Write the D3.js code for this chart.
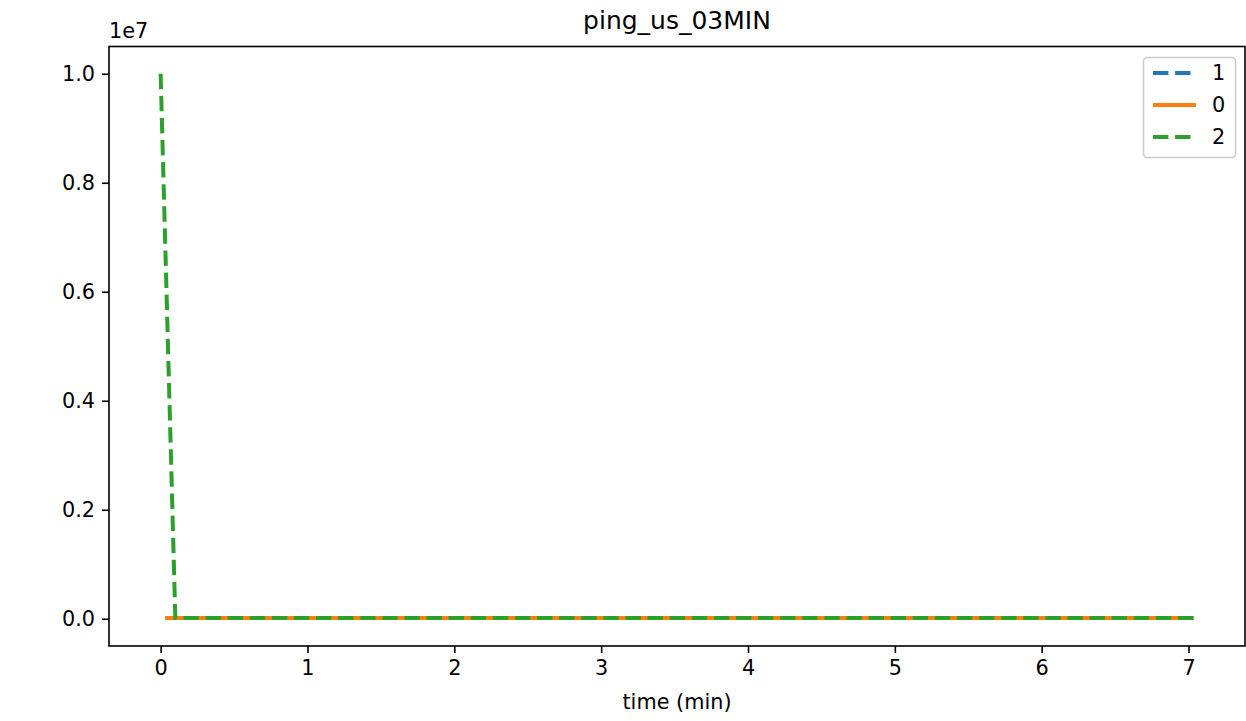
<!DOCTYPE html>
<html>
<head>
<meta charset="utf-8">
<script src="https://cdn.jsdelivr.net/npm/d3@7"></script>
<style>
html,body{margin:0;padding:0;background:#fff;}
svg{display:block;font-family:"DejaVu Sans",sans-serif;}
</style>
</head>
<body>
<svg id="chart" width="1246" height="721"></svg>
<script>
const title = "ping_us_03MIN";
const xLabel = "time (min)";
const seriesNames = ["1", "0", "2"];
const seriesColors = ["#1f77b4", "#ff7f0e", "#2ca02c"];
const seriesDashed = [true, false, true];
const time_1 = [0.033, 1, 2, 3, 4, 5, 6, 7.033];
const value_1 = [15000, 15000, 15000, 15000, 15000, 15000, 15000, 15000];
const time_0 = [0.033, 1, 2, 3, 4, 5, 6, 7.033];
const value_0 = [15000, 15000, 15000, 15000, 15000, 15000, 15000, 15000];
const time_2 = [0, 0.1, 1, 2, 3, 4, 5, 6, 7.033];
const value_2 = [10000000, 15000, 15000, 15000, 15000, 15000, 15000, 15000, 15000];
const xTicks = [0, 1, 2, 3, 4, 5, 6, 7];
const yTicks = [0, 0.2e7, 0.4e7, 0.6e7, 0.8e7, 1.0e7];

const series = [
  {name: seriesNames[0], color: seriesColors[0], dashed: seriesDashed[0], pts: time_1.map((t, i) => [t, value_1[i]])},
  {name: seriesNames[1], color: seriesColors[1], dashed: seriesDashed[1], pts: time_0.map((t, i) => [t, value_0[i]])},
  {name: seriesNames[2], color: seriesColors[2], dashed: seriesDashed[2], pts: time_2.map((t, i) => [t, value_2[i]])}
];

const svg = d3.select("#chart");
const L = 109, R = 1245, T = 46.5, B = 646;

const allX = series.flatMap(s => s.pts.map(p => p[0]));
const allY = series.flatMap(s => s.pts.map(p => p[1]));
const xmin = d3.min(allX), xmax = d3.max(allX);
const ymin = 0, ymax = d3.max(allY);
const xm = (xmax - xmin) * 0.05, ym = (ymax - ymin) * 0.05;

const x = d3.scaleLinear().domain([xmin - xm, xmax + xm]).range([L, R]);
const y = d3.scaleLinear().domain([ymin - ym, ymax + ym]).range([B, T]);

const dash = "15.4,6.7";
const lw = 4;
const fs = 20.8;

const line = d3.line().x(d => x(d[0])).y(d => y(d[1]));
const plot = svg.append("g");
plot.append("clipPath").attr("id", "clip").append("rect")
  .attr("x", L).attr("y", T).attr("width", R - L).attr("height", B - T);
const lines = plot.append("g").attr("clip-path", "url(#clip)");
series.forEach(s => {
  lines.append("path").datum(s.pts)
    .attr("d", line)
    .attr("fill", "none")
    .attr("stroke", s.color)
    .attr("stroke-width", lw)
    .attr("stroke-dasharray", s.dashed ? dash : null);
});

// axes
const xAxis = d3.axisBottom(x).tickValues(xTicks).tickFormat(d3.format("d")).tickSizeOuter(0).tickSize(7).tickPadding(7);
const yAxis = d3.axisLeft(y).tickValues(yTicks).tickFormat(d => (d / 1e7).toFixed(1)).tickSizeOuter(0).tickSize(7).tickPadding(7);

const gx = svg.append("g").attr("transform", `translate(0,${B})`).call(xAxis);
const gy = svg.append("g").attr("transform", `translate(${L},0)`).call(yAxis);
[gx, gy].forEach(g => {
  g.select(".domain").remove();
  g.selectAll(".tick line").attr("stroke", "#000").attr("stroke-width", 1.6);
  g.selectAll(".tick text").attr("fill", "#000").attr("font-size", fs).attr("font-family", "DejaVu Sans");
});

// frame
svg.append("rect").attr("x", L).attr("y", T).attr("width", R - L).attr("height", B - T)
  .attr("fill", "none").attr("stroke", "#000").attr("stroke-width", 1.6);

// offset text
svg.append("text").attr("x", L).attr("y", 38).attr("font-size", fs).attr("fill", "#000").text("1e7");

// title
svg.append("text").attr("x", (L + R) / 2).attr("y", 29).attr("text-anchor", "middle")
  .attr("font-size", 25).attr("fill", "#000").text(title);

// x label
svg.append("text").attr("x", (L + R) / 2).attr("y", 709).attr("text-anchor", "middle")
  .attr("font-size", fs).attr("fill", "#000").text(xLabel);

// legend
const lg = svg.append("g");
lg.append("rect").attr("x", 1143.5).attr("y", 57.5).attr("width", 92).attr("height", 100)
  .attr("rx", 4).attr("fill", "#fff").attr("fill-opacity", 0.8).attr("stroke", "#cccccc").attr("stroke-width", 1.6);
series.forEach((s, i) => {
  const yy = 73 + i * 32;
  lg.append("line").attr("x1", 1153).attr("x2", 1196).attr("y1", yy).attr("y2", yy)
    .attr("stroke", s.color).attr("stroke-width", lw).attr("stroke-dasharray", s.dashed ? dash : null);
  lg.append("text").attr("x", 1212).attr("y", yy).attr("dy", "0.35em").attr("font-size", fs)
    .attr("fill", "#000").text(s.name);
});
</script>
</body>
</html>
